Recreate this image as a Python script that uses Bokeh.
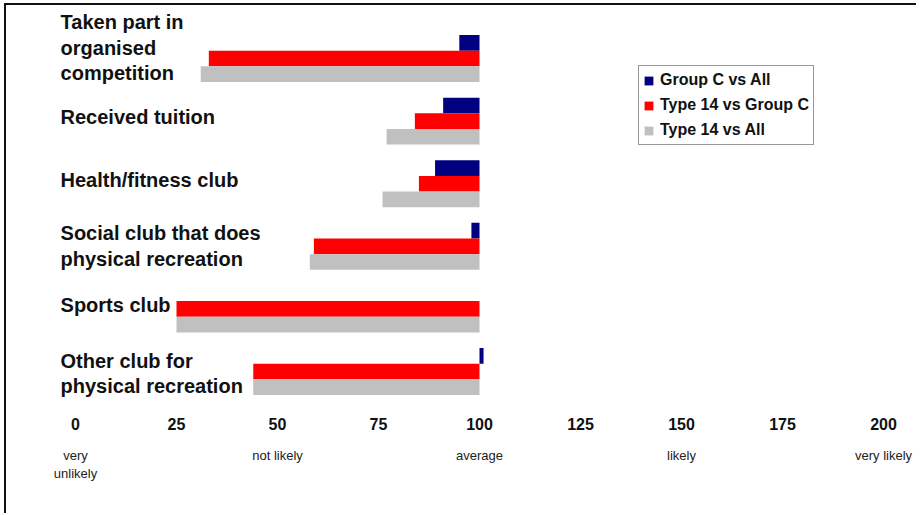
from bokeh.plotting import figure
from bokeh.models import ColumnDataSource, Range1d, LinearAxis, FixedTicker, Legend, LegendItem
from bokeh.core.properties import value
from bokeh.embed import file_html
from bokeh.resources import INLINE

# ---- data ----
categories = [
    "Taken part in\norganised\ncompetition",
    "Received tuition",
    "Health/fitness club",
    "Social club that does\nphysical recreation",
    "Sports club",
    "Other club for\nphysical recreation",
]
group_c_vs_all = [95, 91, 89, 98, 100, 101]
type14_vs_group_c = [33, 84, 85, 59, 25, 44]
type14_vs_all = [31, 77, 76, 58, 25, 44]
series_names = ["Group C vs All", "Type 14 vs Group C", "Type 14 vs All"]
tick_values = [0, 25, 50, 75, 100, 125, 150, 175, 200]
scale_ticks = [0, 50, 100, 150, 200]
scale_labels = ["very\nunlikely", "not likely", "average", "likely", "very likely"]
baseline = 100

colors = ["#000080", "#FF0000", "#C0C0C0"]
FONT = "Liberation Sans"

n = len(categories)
ypos = [n - 1 - i for i in range(n)]
offsets = [0.25, 0.0, -0.25]

p = figure(width=912, height=510, output_backend="svg", toolbar_location=None,
           x_range=Range1d(-17.08, 208.66), y_range=Range1d(-0.463, 5.847),
           x_axis_location=None, y_axis_location=None,
           min_border_left=0, min_border_right=0, min_border_top=0, min_border_bottom=115)
p.outline_line_color = None
p.xgrid.visible = False
p.ygrid.visible = False
p.background_fill_color = "white"
p.border_fill_color = "white"
p.styles = {"border-top": "2px solid #111", "border-left": "2px solid #111",
            "margin-left": "4px", "margin-top": "3px"}

renderers = []
for vals, off, col in zip([group_c_vs_all, type14_vs_group_c, type14_vs_all], offsets, colors):
    src = ColumnDataSource(dict(
        y=[y + off for y in ypos],
        left=[min(v, baseline) for v in vals],
        right=[max(v, baseline) for v in vals],
    ))
    r = p.hbar(y="y", left="left", right="right", height=0.25, source=src,
               fill_color=col, line_color=None)
    renderers.append(r)

lab_src = ColumnDataSource(dict(
    x=[-3.7] * n, y=ypos, text=categories,
    yoff=[-11, -4, -4, 0, -4, 2],
))
p.text(x="x", y="y", text="text", y_offset="yoff", source=lab_src,
       text_font=value(FONT), text_font_style="bold", text_font_size="20px",
       text_color="#111111", text_align="left", text_baseline="middle",
       text_line_height=1.18)

ax1 = LinearAxis(ticker=FixedTicker(ticks=tick_values))
ax1.axis_line_color = None
ax1.major_tick_line_color = None
ax1.minor_tick_line_color = None
ax1.major_label_text_font = FONT
ax1.major_label_text_font_style = "bold"
ax1.major_label_text_font_size = "16px"
ax1.major_label_text_color = "#111111"
ax1.major_label_standoff = 11
p.add_layout(ax1, "below")

ax2 = LinearAxis(ticker=FixedTicker(ticks=scale_ticks))
ax2.major_label_overrides = {t: l for t, l in zip(scale_ticks, scale_labels)}
ax2.axis_line_color = None
ax2.major_tick_line_color = None
ax2.minor_tick_line_color = None
ax2.major_label_text_font = FONT
ax2.major_label_text_font_size = "13px"
ax2.major_label_text_color = "#222222"
ax2.major_label_standoff = 9
p.add_layout(ax2, "below")

legend = Legend(items=[LegendItem(label=nm, renderers=[r]) for nm, r in zip(series_names, renderers)],
                location=(632, 255), margin=0, padding=4, spacing=5,
                label_height=20, glyph_height=11, glyph_width=11, label_standoff=6,
                label_text_font=FONT, label_text_font_style="bold", label_text_font_size="16px",
                label_text_color="#111111", border_line_color="#333333", border_line_width=1,
                background_fill_color="white", background_fill_alpha=1.0)
p.add_layout(legend, "center")

open("out.html", "w").write(file_html(p, INLINE))
